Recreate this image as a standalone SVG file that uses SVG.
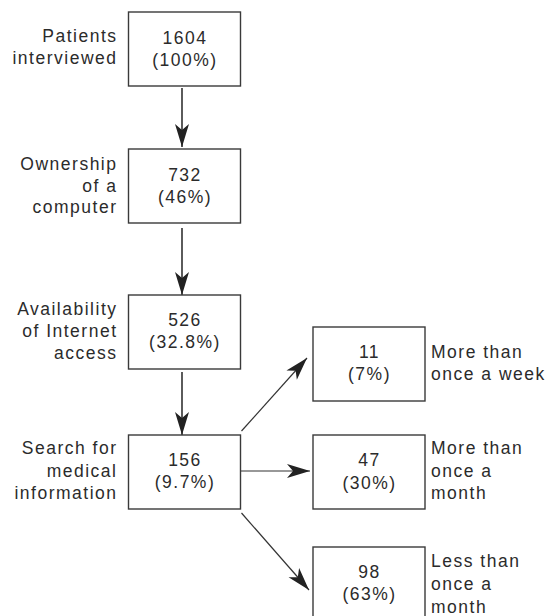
<svg xmlns="http://www.w3.org/2000/svg" width="547" height="616" viewBox="0 0 547 616">
<defs>
<style>
.box{fill:#fff;stroke:#3a3a3a;stroke-width:1.4}
text{font-family:"Liberation Sans",Arial,sans-serif;font-size:17.5px;fill:#2b2b2b;letter-spacing:1.5px}
.c{text-anchor:middle}
.l{text-anchor:end}
.conn{stroke:#333;fill:none}
.v{stroke-width:1.6}
.d{stroke-width:1.2}
</style>
<marker id="ah" markerUnits="userSpaceOnUse" viewBox="-24 -8 25 16" refX="0" refY="0" markerWidth="25" markerHeight="16" orient="auto">
<path d="M0,0 L-23,-7 L-17,0 L-23,7 Z" fill="#222"/>
</marker>
</defs>
<rect width="547" height="616" fill="#fff"/>
<g id="connectors">
<line class="conn v" x1="182" y1="88" x2="182" y2="147" marker-end="url(#ah)"/>
<line class="conn v" x1="182" y1="228" x2="182" y2="295" marker-end="url(#ah)"/>
<line class="conn v" x1="182" y1="372" x2="182" y2="435" marker-end="url(#ah)"/>
<line class="conn d" x1="241.5" y1="431" x2="307" y2="358" marker-end="url(#ah)"/>
<line class="conn d" x1="241" y1="471" x2="310" y2="471" marker-end="url(#ah)"/>
<line class="conn d" x1="241.5" y1="513" x2="309" y2="590" marker-end="url(#ah)"/>
</g>
<g id="n1">
<rect class="box" x="128.5" y="12" width="112" height="74"/>
<text class="c" x="185" y="43.5">1604</text>
<text class="c" x="185" y="65.5">(100%)</text>
<text class="l" x="117.5" y="41.7">Patients</text>
<text class="l" x="117.5" y="64.3">interviewed</text>
</g>
<g id="n2">
<rect class="box" x="128.5" y="149" width="112" height="74"/>
<text class="c" x="185" y="180.7">732</text>
<text class="c" x="185" y="202.5">(46%)</text>
<text class="l" x="117.5" y="170">Ownership</text>
<text class="l" x="117.5" y="191.7">of a</text>
<text class="l" x="117.5" y="213.3">computer</text>
</g>
<g id="n3">
<rect class="box" x="128.5" y="295" width="112" height="74"/>
<text class="c" x="185" y="326">526</text>
<text class="c" x="185" y="348.3">(32.8%)</text>
<text class="l" x="117.5" y="315">Availability</text>
<text class="l" x="117.5" y="336.7">of Internet</text>
<text class="l" x="117.5" y="359.3">access</text>
</g>
<g id="n4">
<rect class="box" x="128.5" y="435" width="112" height="74"/>
<text class="c" x="185" y="465.7">156</text>
<text class="c" x="185" y="488.3">(9.7%)</text>
<text class="l" x="117.5" y="454">Search for</text>
<text class="l" x="117.5" y="476.7">medical</text>
<text class="l" x="117.5" y="499">information</text>
</g>
<g id="n5">
<rect class="box" x="313" y="327" width="112" height="74"/>
<text class="c" x="369.5" y="358.3">11</text>
<text class="c" x="369.5" y="380">(7%)</text>
<text x="431" y="358.3">More than</text>
<text x="431" y="380">once a week</text>
</g>
<g id="n6">
<rect class="box" x="313" y="435" width="112" height="74"/>
<text class="c" x="369.5" y="465.7">47</text>
<text class="c" x="369.5" y="489">(30%)</text>
<text x="431" y="454.3">More than</text>
<text x="431" y="477.3">once a</text>
<text x="431" y="499.3">month</text>
</g>
<g id="n7">
<rect class="box" x="313" y="547" width="112" height="76"/>
<text class="c" x="369.5" y="577.7">98</text>
<text class="c" x="369.5" y="600.3">(63%)</text>
<text x="431" y="566.7">Less than</text>
<text x="431" y="590">once a</text>
<text x="431" y="612.7">month</text>
</g>
</svg>
